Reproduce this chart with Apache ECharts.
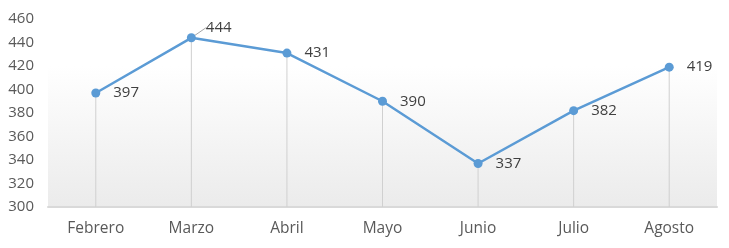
<!DOCTYPE html>
<html><head><meta charset="utf-8">
<script src="https://cdn.jsdelivr.net/npm/echarts@6/dist/echarts.min.js"></script>
<style>html,body{margin:0;padding:0;background:#fff}#c{width:729px;height:248px}</style>
</head><body><div id="c"></div>
<script>
const categories = ['Febrero','Marzo','Abril','Mayo','Junio','Julio','Agosto'];
const values = [397,444,431,390,337,382,419];
const yTicks = [300,320,340,360,380,400,420,440,460];

const FONT = 'Open Sans';
const chart = echarts.init(document.getElementById('c'));
const lineData = values.map((v,i) => i === 1 ? {value: v, labelLine: {show: true}} : v);
chart.setOption({
  animation: false,
  grid: {left: 48, right: 12, top: 19, bottom: 41, show: true, borderWidth: 0,
    backgroundColor: new echarts.graphic.LinearGradient(0,0,0,1,[
      {offset:0,color:'#ffffff'},{offset:0.25,color:'#ffffff'},{offset:1,color:'#ebebeb'}])},
  xAxis: {type:'category', data: categories, boundaryGap: true,
    axisLine:{show:true, lineStyle:{color:'#d9d9d9', width:2}},
    axisTick:{show:false},
    axisLabel:{color:'#595959', fontFamily:FONT, fontSize:15.5, margin:14}},
  yAxis: {type:'value', min: yTicks[0], max: yTicks[yTicks.length-1], interval: 20,
    axisLine:{show:false}, axisTick:{show:false}, splitLine:{show:false},
    axisLabel:{color:'#595959', fontFamily:FONT, fontSize:15, margin:14}},
  series: [
    {type:'bar', data: values, barWidth: 1, itemStyle:{color:'#d0d0d0'}, silent:true},
    {type:'line', data: lineData, symbol:'circle', symbolSize:9,
      lineStyle:{color:'#5b9bd5', width:2.5}, itemStyle:{color:'#5b9bd5'},
      label:{show:true, position:'right', distance:13, color:'#404040', fontFamily:FONT, fontSize:15},
      labelLine:{show:false, lineStyle:{color:'#a6a6a6', width:1}},
      labelLayout: function(p){ return p.dataIndex === 1 ? {dx: -3, dy: -10} : {}; }}
  ]
});
</script></body></html>
